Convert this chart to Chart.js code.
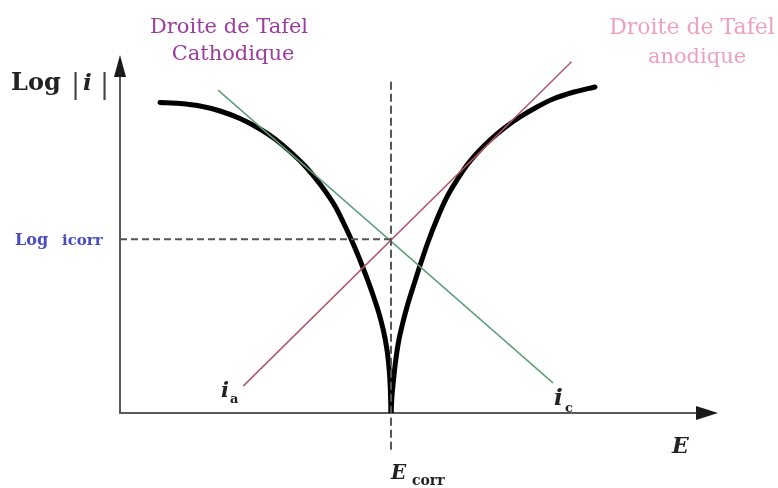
<!DOCTYPE html>
<html lang="fr">
<head>
<meta charset="utf-8">
<title>Droites de Tafel</title>
<script src="https://cdn.jsdelivr.net/npm/chart.js@4.4.1/dist/chart.umd.min.js"></script>
<style>
  html, body { margin: 0; padding: 0; background: #fff; }
  #wrap { width: 778px; height: 488px; position: relative; }
</style>
</head>
<body>
<div id="wrap"><canvas id="tafel"></canvas></div>
<script>
// Potentiel et courant de corrosion (unités arbitraires)
const E_CORR = 4.532;
const LOG_ICORR = 4.85;

// Courbe de polarisation, branche cathodique (à gauche de Ecorr)
const brancheCathE = [
  0.669, 1.003, 1.338, 1.672, 2.007, 2.341, 2.592, 2.843, 3.094, 3.344,
  3.595, 3.763, 3.930, 4.097, 4.231, 4.348, 4.431, 4.490, 4.520, 4.532,
];
const brancheCathLog = [
  8.673, 8.645, 8.575, 8.436, 8.226, 7.933, 7.654, 7.304, 6.899, 6.397,
  5.782, 5.223, 4.609, 3.911, 3.296, 2.682, 2.095, 1.425, 0.698, 0,
];

// Courbe de polarisation, branche anodique (à droite de Ecorr)
const brancheAnodE = [
  4.532, 4.548, 4.574, 4.607, 4.657, 4.724, 4.799, 4.891, 4.992, 5.151, 5.301,
  5.468, 5.635, 5.803, 5.987, 6.187, 6.438, 6.689, 6.973, 7.241, 7.592, 7.943,
];
const brancheAnodLog = [
  0, 0.475, 0.922, 1.425, 1.983, 2.486, 2.961, 3.464, 3.994, 4.777, 5.419,
  6.034, 6.508, 6.927, 7.291, 7.626, 7.975, 8.268, 8.547, 8.771, 8.966, 9.106,
];

// Droites de Tafel (extrémités)
const tafelCathE   = [1.64, 7.24];
const tafelCathLog = [9.02, 0.84];
const tafelAnodE   = [2.06, 7.55];
const tafelAnodLog = [0.75, 9.81];

// Repères en pointillés
const repereHorizE  = [0, E_CORR];
const repereVertLog = [9.25, -1.12];

const toPoints = (xs, ys) => xs.map((x, k) => ({ x, y: ys[k] }));

const SERIF = '"DejaVu Serif", "Liberation Serif", serif';

/* -----------------------------------------
   Axes fléchés + annotations
------------------------------------------ */
const tafelDecor = {
  id: "tafelDecor",
  beforeDatasetsDraw(chart) {
    const { ctx, chartArea: a } = chart;
    ctx.save();
    ctx.strokeStyle = "#5a5a5a";
    ctx.fillStyle = "#1a1a1a";
    ctx.lineWidth = 2;

    // axe vertical
    ctx.beginPath();
    ctx.moveTo(a.left, a.bottom + 1);
    ctx.lineTo(a.left, a.top + 12);
    ctx.stroke();
    ctx.beginPath();
    ctx.moveTo(a.left, a.top);
    ctx.lineTo(a.left - 6, a.top + 22);
    ctx.lineTo(a.left + 6, a.top + 22);
    ctx.closePath();
    ctx.fill();

    // axe horizontal
    ctx.beginPath();
    ctx.moveTo(a.left, a.bottom);
    ctx.lineTo(a.right - 12, a.bottom);
    ctx.stroke();
    ctx.beginPath();
    ctx.moveTo(a.right, a.bottom);
    ctx.lineTo(a.right - 22, a.bottom - 7);
    ctx.lineTo(a.right - 22, a.bottom + 7);
    ctx.closePath();
    ctx.fill();
    ctx.restore();
  },
  afterDatasetsDraw(chart) {
    const { ctx } = chart;
    const txt = (s, x, y, font, color, align = "left") => {
      ctx.font = font;
      ctx.fillStyle = color;
      ctx.textAlign = align;
      ctx.textBaseline = "alphabetic";
      ctx.fillText(s, x, y);
    };
    ctx.save();

    // titre de l'axe vertical : Log |i|
    txt("Log", 11, 90, "bold 24px " + SERIF, "#222");
    txt("|", 71, 93, "27px " + SERIF, "#444");
    txt("i", 83, 90, "italic bold 23px " + SERIF, "#222");
    txt("|", 100, 93, "27px " + SERIF, "#444");

    // légendes des droites
    txt("Droite de Tafel", 229, 33, "21px " + SERIF, "#9c3d9e", "center");
    txt("Cathodique", 233, 60, "21px " + SERIF, "#9c3d9e", "center");
    txt("Droite de Tafel", 692, 34, "22px " + SERIF, "#eca2bf", "center");
    txt("anodique", 697, 63, "21px " + SERIF, "#eca2bf", "center");

    // Log icorr
    txt("Log", 15, 245, "bold 16px " + SERIF, "#4b4bc0");
    txt("icorr", 62, 245, "bold 15px " + SERIF, "#4b4bc0");

    // ia et ic
    txt("i", 221, 397, "italic bold 21px " + SERIF, "#222");
    txt("a", 230, 403, "bold 13px " + SERIF, "#222");
    txt("i", 554, 405, "italic bold 23px " + SERIF, "#222");
    txt("c", 565, 412, "bold 13px " + SERIF, "#222");

    // E et Ecorr
    txt("E", 672, 453, "italic bold 22px " + SERIF, "#222");
    txt("E", 391, 479, "italic bold 20px " + SERIF, "#222");
    txt("corr", 412, 485, "bold 14px " + SERIF, "#222");

    ctx.restore();
  },
};

const ctx = document.getElementById("tafel");

new Chart(ctx, {
  type: "scatter",
  data: {
    datasets: [
      {
        label: "Repère Log icorr",
        data: toPoints(repereHorizE, [LOG_ICORR, LOG_ICORR]),
        showLine: true,
        borderColor: "#555",
        borderWidth: 2,
        borderDash: [7, 4],
        pointRadius: 0,
      },
      {
        label: "Repère Ecorr",
        data: toPoints([E_CORR, E_CORR], repereVertLog),
        showLine: true,
        borderColor: "#555",
        borderWidth: 2,
        borderDash: [8, 4],
        pointRadius: 0,
        clip: false,
      },
      {
        label: "Droite de Tafel cathodique",
        data: toPoints(tafelCathE, tafelCathLog),
        showLine: true,
        borderColor: "#5f9f78",
        borderWidth: 1.5,
        pointRadius: 0,
      },
      {
        label: "Droite de Tafel anodique",
        data: toPoints(tafelAnodE, tafelAnodLog),
        showLine: true,
        borderColor: "#b4566a",
        borderWidth: 1.5,
        pointRadius: 0,
        clip: false,
      },
      {
        label: "Branche cathodique",
        data: toPoints(brancheCathE, brancheCathLog),
        showLine: true,
        borderColor: "#000",
        borderWidth: 5,
        borderCapStyle: "round",
        borderJoinStyle: "round",
        cubicInterpolationMode: "monotone",
        pointRadius: 0,
      },
      {
        label: "Branche anodique",
        data: toPoints(brancheAnodE, brancheAnodLog),
        showLine: true,
        borderColor: "#000",
        borderWidth: 5,
        borderCapStyle: "round",
        borderJoinStyle: "round",
        cubicInterpolationMode: "monotone",
        pointRadius: 0,
      },
    ],
  },
  options: {
    responsive: true,
    maintainAspectRatio: false,
    animation: false,
    layout: {
      padding: { left: 120, right: 60, top: 55, bottom: 75 },
    },
    plugins: {
      legend: { display: false },
      tooltip: { enabled: false },
    },
    scales: {
      x: { type: "linear", min: 0, max: 10, display: false },
      y: { type: "linear", min: 0, max: 10, display: false },
    },
  },
  plugins: [tafelDecor],
});
</script>
</body>
</html>
